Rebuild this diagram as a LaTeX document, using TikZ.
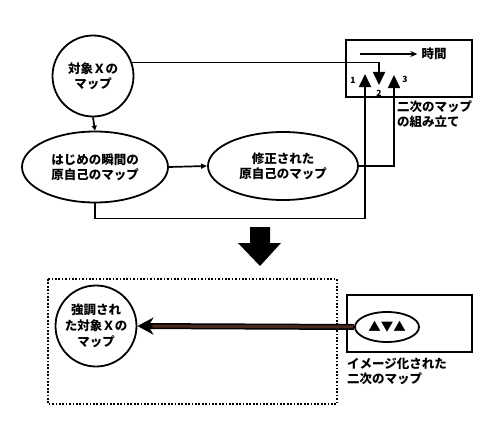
\documentclass[tikz,border=0pt]{standalone}
\usepackage{fontspec}
\setmainfont{Noto Sans CJK JP}
\usepackage{tikz}
\usetikzlibrary{arrows.meta,calc,positioning,shapes.geometric}
\definecolor{kogecha}{HTML}{4A2A1E}

\begin{document}
\begin{tikzpicture}[x=1pt,y=-1pt,>=Stealth,
    every node/.style={font=\fontsize{12.5}{15}\selectfont\bfseries,align=center},
    mapline/.style={line width=1.7pt},
    mapbox/.style={draw,line width=1.8pt,inner sep=0pt},
    tri/.style={-{Triangle[length=13pt,width=12pt]}},
    num/.style={font=\fontsize{8.5}{9}\selectfont\bfseries,inner sep=0pt}]
        \useasboundingbox (0,0) rectangle (498,444);
        % upper half
        \node[mapbox,circle,minimum size=81pt] (objx) at (93,76) {対象Ｘの\\マップ};
        \node[mapbox,ellipse,minimum width=146pt,minimum height=71pt] (orig) at (95,167) {はじめの瞬間の\\原自己のマップ};
        \node[mapbox,ellipse,minimum width=150pt,minimum height=68pt] (fixed) at (283,166) {修正された\\原自己のマップ};
        \node[mapbox,rectangle,minimum width=126pt,minimum height=57pt] (build) at (409,68.5) {};
        \node[anchor=north west,align=left,inner sep=0pt] (buildlbl) at (397,100) {二次のマップ\\の組み立て};
        \coordinate (tip1) at (365,74);
        \coordinate (tip2) at (379,85);
        \coordinate (tip3) at (394,75);
        \node[num] (n1) at (353,80) {1};
        \node[num] (n2) at (379,93) {2};
        \node[num] (n3) at (405,79) {3};
        \coordinate (tstart) at (360,54);
        \node[inner sep=4pt] (time) at (434,54) {時間};
        \draw[mapline,-{Stealth[length=7pt,width=6pt]}] (tstart) -- (time.west);
        \draw[mapline,-{Triangle[length=5pt,width=5pt]}] (objx.south) -- (orig.north);
        \draw[mapline,-{Triangle[length=6pt,width=5pt]}] (orig.east) -- (fixed.west);
        \draw[mapline,tri] (objx.19) -| (tip2);
        \draw[mapline,tri] (orig.south) -- ++(0,15) -| (tip1);
        \draw[mapline,tri] (fixed.east) -| (tip3);
        % big arrow down
        \fill (250,227) -- (270,227) -- (270,243) -- (281,243) -- (260,266) -- (238,243) -- (250,243) -- cycle;
        % lower half
        \draw[line width=1.7pt,dash pattern=on 1.7pt off 1.7pt] (48,279) rectangle (337,404);
        \node[mapbox,circle,minimum size=81pt,font=\fontsize{12.5}{16}\selectfont\bfseries] (emph) at (96,326) {強調され\\た対象Ｘの\\マップ};
        \node[mapbox,rectangle,minimum width=125pt,minimum height=57pt] (imgbox) at (409.5,323.5) {};
        \node[mapbox,ellipse,minimum width=64pt,minimum height=30pt,font=\fontsize{12.5}{12}\selectfont] (tris) at (387,327) {▲▼▲};
        \node[anchor=north west,align=left,inner sep=0pt] (imglbl) at (347,358) {イメージ化された\\二次のマップ};
        \draw[line width=6pt,-{Stealth[length=16pt,width=17pt,inset=5pt]}] (tris.west) -- (emph.east);
        \draw[line width=3pt,kogecha,shorten >=15pt,shorten <=1pt] (tris.west) -- (emph.east);
\end{tikzpicture}
\end{document}
